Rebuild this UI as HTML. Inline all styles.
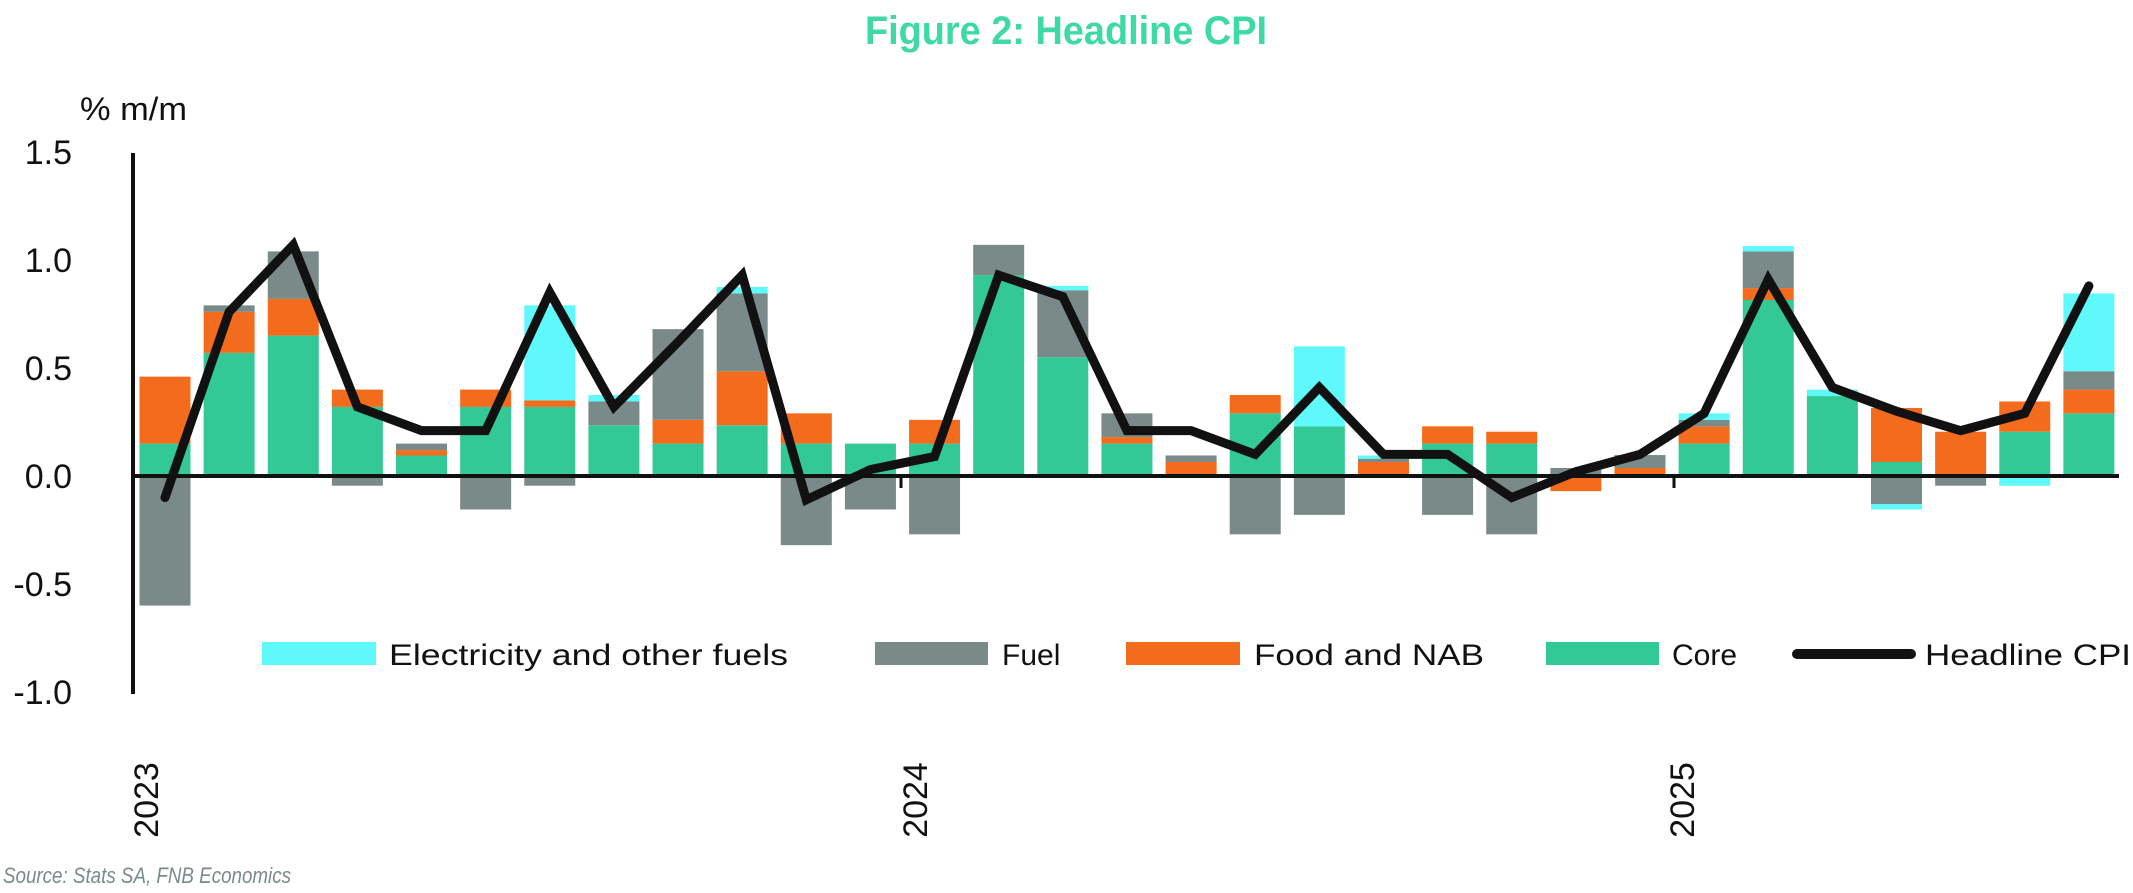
<!DOCTYPE html>
<html><head><meta charset="utf-8"><style>
html,body{margin:0;padding:0;background:#fff;width:2133px;height:893px;overflow:hidden}
svg{display:block}
</style></head><body>
<svg id="c" width="2133" height="893" xmlns="http://www.w3.org/2000/svg" font-family="Liberation Sans, sans-serif">
<text x="1066" y="44" text-anchor="middle" font-size="40" font-weight="bold" fill="#3fd9a3" textLength="402" lengthAdjust="spacingAndGlyphs">Figure 2: Headline CPI</text>
<text x="80" y="120" font-size="32" fill="#111" textLength="107" lengthAdjust="spacingAndGlyphs">% m/m</text>
<g font-size="34" fill="#111" text-anchor="end">
<text x="72" y="164">1.5</text>
<text x="72" y="272">1.0</text>
<text x="72" y="380">0.5</text>
<text x="72" y="488">0.0</text>
<text x="72" y="596">-0.5</text>
<text x="72" y="704">-1.0</text>
</g>
<g font-size="34" fill="#111" text-anchor="middle">
<text transform="translate(158,800) rotate(-90)">2023</text>
<text transform="translate(927,800) rotate(-90)">2024</text>
<text transform="translate(1694,800) rotate(-90)">2025</text>
</g>
<g id="bars"></g>
<line x1="133" y1="153" x2="133" y2="694" stroke="#111" stroke-width="4"/>
<line x1="131" y1="476" x2="2119" y2="476" stroke="#111" stroke-width="4"/>
<line x1="901" y1="476" x2="901" y2="488" stroke="#111" stroke-width="3"/>
<line x1="1674" y1="476" x2="1674" y2="488" stroke="#111" stroke-width="3"/>
<polyline id="ln" fill="none" stroke="#111" stroke-width="9" stroke-linejoin="miter" stroke-linecap="round"/>
<g font-size="30" fill="#111">
<rect x="262" y="642" width="114" height="23" fill="#5ff8fb"/>
<text x="389" y="665" textLength="399" lengthAdjust="spacingAndGlyphs">Electricity and other fuels</text>
<rect x="875" y="642" width="113" height="23" fill="#7a8a88"/>
<text x="1002" y="665">Fuel</text>
<rect x="1126" y="642" width="114" height="23" fill="#f36b1c"/>
<text x="1254" y="665" textLength="230" lengthAdjust="spacingAndGlyphs">Food and NAB</text>
<rect x="1546" y="642" width="113" height="23" fill="#33c996"/>
<text x="1672" y="665">Core</text>
<line x1="1797" y1="654" x2="1911" y2="654" stroke="#111" stroke-width="10" stroke-linecap="round"/>
<text x="1925" y="665" textLength="206" lengthAdjust="spacingAndGlyphs">Headline CPI</text>
</g>
<text x="3" y="883" font-size="22" font-style="italic" fill="#7a8a8a" textLength="288" lengthAdjust="spacingAndGlyphs">Source: Stats SA, FNB Economics</text>
</svg>
<script>
var d=[
[0.15,0.31,-0.60,0,-0.10],[0.57,0.19,0.03,0,0.76],[0.65,0.17,0.22,0,1.07],[0.32,0.08,-0.045,0,0.32],
[0.095,0.025,0.03,0,0.21],[0.32,0.08,-0.155,0,0.21],[0.32,0.03,-0.045,0.44,0.85],[0.235,0,0.11,0.03,0.32],
[0.15,0.11,0.42,0,0.62],[0.235,0.25,0.36,0.03,0.93],[0.15,0.14,-0.32,0,-0.11],[0.15,0,-0.155,0,0.03],
[0.15,0.11,-0.27,0,0.09],[0.93,0,0.14,0,0.93],[0.55,0,0.31,0.02,0.83],[0.15,0.03,0.11,0,0.21],
[0,0.065,0.03,0,0.21],[0.29,0.085,-0.27,0,0.10],[0.23,0,-0.18,0.37,0.41],[0,0.065,0.015,0.015,0.10],
[0.15,0.08,-0.18,0,0.10],[0.15,0.055,-0.27,0,-0.10],[0,-0.07,0.037,0,0.02],[0,0.037,0.06,0,0.10],
[0.15,0.08,0.03,0.03,0.29],[0.815,0.055,0.17,0.025,0.91],[0.37,0,0,0.03,0.41],[0.065,0.25,-0.13,-0.025,0.30],
[0,0.205,-0.045,0,0.21],[0.205,0.14,0,-0.045,0.29],[0.29,0.11,0.085,0.36,0.88]];
var col=["#33c996","#f36b1c","#7a8a88","#5ff8fb"];
var g=document.getElementById("bars"),s="",pts=[];
function Y(v){return 476-216*v;}
for(var i=0;i<d.length;i++){
 var cx=165+i*64.13,p=0,n=0;
 for(var k=0;k<4;k++){var v=d[i][k];if(!v)continue;
  var a,b;if(v>0){a=p;b=p+v;p=b;}else{a=n+v;b=n;n=a;}
  s+='<rect x="'+(cx-25.5)+'" y="'+Y(b)+'" width="51" height="'+(Y(a)-Y(b))+'" fill="'+col[k]+'"/>';}
 pts.push(cx+","+Y(d[i][4]));}
g.innerHTML=s;
document.getElementById("ln").setAttribute("points",pts.join(" "));
</script>
</body></html>
